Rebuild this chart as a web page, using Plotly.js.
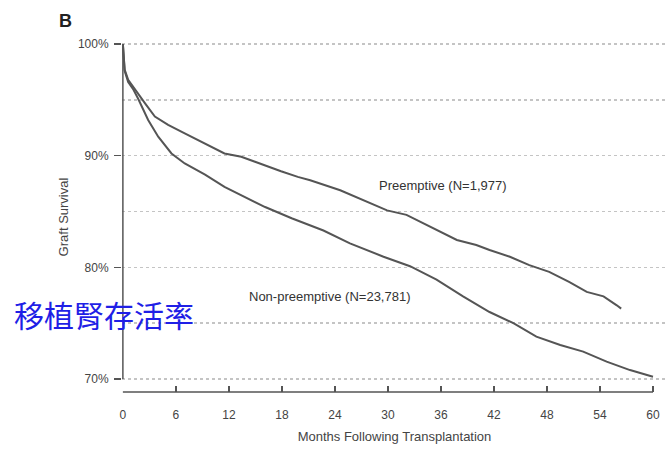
<!DOCTYPE html>
<html>
<head>
<meta charset="utf-8">
<script src="https://cdn.plot.ly/plotly-3.0.1.min.js"></script>
<style>html,body{margin:0;padding:0;background:#fff;}#chart{width:667px;height:451px;}</style>
</head>
<body>
<div id="chart"></div>
<script>
// Months following transplantation and graft survival (%)
const preMonths = [0, 0.2, 0.6, 1.2, 1.73, 2.49, 3.62, 5.12, 7.0, 8.9, 11.5, 13.4, 15.7, 17.9, 19.8, 21.2, 24.6, 27.6, 29.9, 32.1, 34.8, 37.8, 40.0, 41.5, 43.8, 46.0, 48.25, 50.5, 52.5, 54.4, 55.9, 56.4];
const preSurv   = [100, 97.7, 96.8, 96.1, 95.6, 94.7, 93.5, 92.75, 92.0, 91.25, 90.2, 89.9, 89.2, 88.6, 88.1, 87.8, 86.9, 85.9, 85.1, 84.7, 83.6, 82.45, 82.0, 81.55, 80.95, 80.2, 79.6, 78.7, 77.8, 77.4, 76.6, 76.3];
const nonMonths = [0, 0.2, 0.6, 1.2, 1.73, 2.86, 4.0, 5.5, 7.0, 9.3, 11.5, 13.8, 16.1, 19.1, 22.7, 25.7, 29.5, 32.5, 35.5, 38.5, 40.4, 41.5, 44.2, 46.8, 49.5, 52.1, 54.75, 57.4, 60];
const nonSurv   = [100, 97.6, 96.6, 95.9, 95.1, 93.2, 91.7, 90.2, 89.3, 88.3, 87.2, 86.3, 85.4, 84.4, 83.3, 82.15, 80.95, 80.1, 78.9, 77.4, 76.5, 76.0, 75.0, 73.8, 73.05, 72.45, 71.55, 70.8, 70.2];
const xTicks = [0, 6, 12, 18, 24, 30, 36, 42, 48, 54, 60];
const preLabel = 'Preemptive (N=1,977)';
const nonLabel = 'Non-preemptive (N=23,781)';

const lineStyle = {color: '#555555', width: 2};
const traces = [
  {x: nonMonths, y: nonSurv, type: 'scatter', mode: 'lines', line: lineStyle, name: nonLabel, hoverinfo: 'skip'},
  {x: preMonths, y: preSurv, type: 'scatter', mode: 'lines', line: lineStyle, name: preLabel, hoverinfo: 'skip'}
];

const fam = 'Liberation Sans, Arial, sans-serif';
const tickFont = {family: fam, size: 12, color: '#444'};
const layout = {
  width: 667, height: 451,
  margin: {l: 122, r: 0, t: 42, b: 59},
  paper_bgcolor: '#fff', plot_bgcolor: '#fff',
  showlegend: false,
  xaxis: {
    range: [-0.1, 61.585],
    tickmode: 'array', tickvals: xTicks,
    ticks: 'inside', ticklen: 6, tickwidth: 1.5, tickcolor: '#555',
    ticklabelstandoff: 14,
    showgrid: false, zeroline: false, showline: false,
    tickfont: tickFont,
    title: {text: 'Months Following Transplantation', font: {family: fam, size: 13, color: '#444'}, standoff: 10}
  },
  yaxis: {
    range: [68.836, 100.18],
    tickmode: 'linear', tick0: 70, dtick: 10, ticksuffix: '%',
    ticks: 'outside', ticklen: 7, tickwidth: 1.5, tickcolor: '#555',
    ticklabelstandoff: 3,
    showgrid: true, gridcolor: '#c4c4c4', gridwidth: 1.5, griddash: 'dot',
    minor: {dtick: 5, tick0: 70, showgrid: true, gridcolor: '#c4c4c4', gridwidth: 1.5, griddash: 'dot', ticks: ''},
    zeroline: false, showline: false,
    tickfont: tickFont,
    title: {text: 'Graft Survival', font: {family: fam, size: 13, color: '#444'}, standoff: 6}
  },
  shapes: [
    {type: 'line', xref: 'x', yref: 'y', x0: 0, x1: 0, y0: 70, y1: 100, line: {color: '#555', width: 1.5}, layer: 'above'},
    {type: 'line', xref: 'x', yref: 'paper', x0: 0, x1: 60, y0: 0, y1: 0, line: {color: '#555', width: 1.5}, layer: 'above'}
  ],
  annotations: [
    {text: '<b>B</b>', xref: 'paper', yref: 'paper', x: -0.104, y: 1.059, showarrow: false, xanchor: 'center', yanchor: 'middle', font: {family: fam, size: 18, color: '#222'}},
    {text: preLabel, xref: 'x', yref: 'y', x: 28.8, y: 87.3, showarrow: false, xanchor: 'left', yanchor: 'middle', font: {family: fam, size: 13, color: '#333'}},
    {text: nonLabel, xref: 'x', yref: 'y', x: 14.06, y: 77.35, showarrow: false, xanchor: 'left', yanchor: 'middle', font: {family: fam, size: 13, color: '#333'}},
    {text: '移植腎存活率', xref: 'paper', yref: 'paper', x: -0.201, y: 0.223, showarrow: false, xanchor: 'left', yanchor: 'middle', font: {family: 'Noto Sans CJK TC, Noto Sans CJK SC, sans-serif', size: 30, color: '#1f1fe6'}}
  ]
};

Plotly.newPlot('chart', traces, layout, {displayModeBar: false, staticPlot: true});
</script>
</body>
</html>
